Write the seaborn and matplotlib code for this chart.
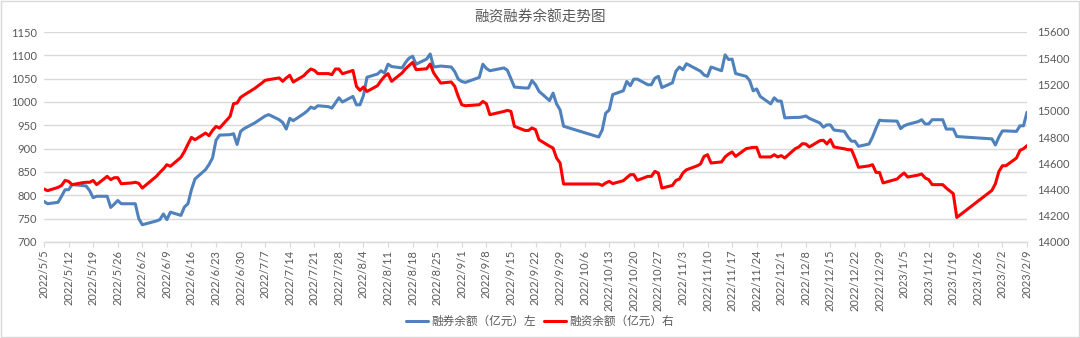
import matplotlib
matplotlib.use("Agg")
import matplotlib.pyplot as plt
from matplotlib.lines import Line2D
from matplotlib.patches import Rectangle
import pandas as pd
import seaborn as sns

# Trading days (2022/5/5 – 2023/2/9)
trade_dates = [
    # 2022-05
    "2022-05-05", "2022-05-06", "2022-05-09", "2022-05-10", "2022-05-11", "2022-05-12", "2022-05-13",
    "2022-05-16", "2022-05-17", "2022-05-18", "2022-05-19", "2022-05-20", "2022-05-23", "2022-05-24",
    "2022-05-25", "2022-05-26", "2022-05-27", "2022-05-30", "2022-05-31",
    # 2022-06
    "2022-06-01", "2022-06-02", "2022-06-06", "2022-06-07", "2022-06-08", "2022-06-09", "2022-06-10",
    "2022-06-13", "2022-06-14", "2022-06-15", "2022-06-16", "2022-06-17", "2022-06-20", "2022-06-21",
    "2022-06-22", "2022-06-23", "2022-06-24", "2022-06-27", "2022-06-28", "2022-06-29", "2022-06-30",
    # 2022-07
    "2022-07-01", "2022-07-04", "2022-07-05", "2022-07-06", "2022-07-07", "2022-07-08", "2022-07-11",
    "2022-07-12", "2022-07-13", "2022-07-14", "2022-07-15", "2022-07-18", "2022-07-19", "2022-07-20",
    "2022-07-21", "2022-07-22", "2022-07-25", "2022-07-26", "2022-07-27", "2022-07-28", "2022-07-29",
    # 2022-08
    "2022-08-01", "2022-08-02", "2022-08-03", "2022-08-04", "2022-08-05", "2022-08-08", "2022-08-09",
    "2022-08-10", "2022-08-11", "2022-08-12", "2022-08-15", "2022-08-16", "2022-08-17", "2022-08-18",
    "2022-08-19", "2022-08-22", "2022-08-23", "2022-08-24", "2022-08-25", "2022-08-26", "2022-08-29",
    "2022-08-30", "2022-08-31",
    # 2022-09
    "2022-09-01", "2022-09-02", "2022-09-05", "2022-09-06", "2022-09-07", "2022-09-08", "2022-09-09",
    "2022-09-13", "2022-09-14", "2022-09-15", "2022-09-16", "2022-09-19", "2022-09-20", "2022-09-21",
    "2022-09-22", "2022-09-23", "2022-09-26", "2022-09-27", "2022-09-28", "2022-09-29", "2022-09-30",
    # 2022-10
    "2022-10-10", "2022-10-11", "2022-10-12", "2022-10-13", "2022-10-14", "2022-10-17", "2022-10-18",
    "2022-10-19", "2022-10-20", "2022-10-21", "2022-10-24", "2022-10-25", "2022-10-26", "2022-10-27",
    "2022-10-28", "2022-10-31",
    # 2022-11
    "2022-11-01", "2022-11-02", "2022-11-03", "2022-11-04", "2022-11-07", "2022-11-08", "2022-11-09",
    "2022-11-10", "2022-11-11", "2022-11-14", "2022-11-15", "2022-11-16", "2022-11-17", "2022-11-18",
    "2022-11-21", "2022-11-22", "2022-11-23", "2022-11-24", "2022-11-25", "2022-11-28", "2022-11-29",
    "2022-11-30",
    # 2022-12
    "2022-12-01", "2022-12-02", "2022-12-05", "2022-12-06", "2022-12-07", "2022-12-08", "2022-12-09",
    "2022-12-12", "2022-12-13", "2022-12-14", "2022-12-15", "2022-12-16", "2022-12-19", "2022-12-20",
    "2022-12-21", "2022-12-22", "2022-12-23", "2022-12-26", "2022-12-27", "2022-12-28", "2022-12-29",
    "2022-12-30",
    # 2023-01
    "2023-01-03", "2023-01-04", "2023-01-05", "2023-01-06", "2023-01-09", "2023-01-10", "2023-01-11",
    "2023-01-12", "2023-01-13", "2023-01-16", "2023-01-17", "2023-01-18", "2023-01-19", "2023-01-20",
    "2023-01-30", "2023-01-31",
    # 2023-02
    "2023-02-01", "2023-02-02", "2023-02-03", "2023-02-06", "2023-02-07", "2023-02-08", "2023-02-09",
]

# 融券余额（亿元）, left axis
short_balance = [
    787, 782, 785, 798, 812, 812, 823, 821, 820, 810, 795, 798, 798, 774, 781, 789, 782, 782, 782,
    750, 737, 745, 748, 760, 748, 764, 757, 775, 782, 812, 835, 855, 866, 880, 918, 929, 930, 932, 909, 937,
    943, 955, 960, 965, 970, 973, 962, 956, 942, 965, 960, 975, 981, 989, 986, 992, 990, 987, 998, 1009, 1000,
    1012, 994, 994, 1014, 1053, 1060, 1067, 1062, 1081, 1076, 1073, 1085, 1094, 1098, 1081, 1092, 1103,
    1075, 1076, 1077, 1075, 1065, 1049,
    1044, 1042, 1050, 1053, 1081, 1072, 1067, 1073, 1068, 1050, 1032, 1030, 1030, 1046, 1037, 1023, 1003,
    1019, 996, 983, 948,
    925, 940, 976, 983, 1016, 1024, 1044, 1035, 1049, 1049, 1037, 1037, 1051, 1055, 1031, 1041,
    1066, 1075, 1069, 1082, 1070, 1066, 1058, 1055, 1075, 1067, 1101, 1091, 1092, 1061, 1055, 1046, 1024,
    1028, 1012, 996, 1009, 1002,
    1002, 966, 967, 967, 968, 970, 965, 955, 946, 951, 951, 940, 937, 925, 916, 916, 905, 910, 925, 944,
    961, 960,
    959, 943, 949, 952, 958, 962, 953, 953, 962, 962, 942, 942, 942, 926, 921, 908,
    925, 938, 938, 937, 949, 949, 978,
]

# 融资余额（亿元）, right axis
margin_balance = [
    14404, 14391, 14416, 14431, 14469, 14462, 14437, 14452, 14455, 14455, 14469, 14437, 14500, 14475,
    14490, 14490, 14444, 14450, 14455,
    14447, 14411, 14500, 14530, 14556, 14589, 14577, 14645, 14690, 14745, 14797, 14779, 14830, 14810,
    14850, 14881, 14868, 14957, 15054, 15059, 15102,
    15120, 15170, 15190, 15210, 15232, 15237, 15250, 15224, 15250, 15270, 15219, 15267, 15295, 15318,
    15308, 15283, 15283, 15275, 15318, 15318, 15282,
    15307, 15186, 15155, 15181, 15147, 15191, 15230, 15262, 15282, 15224, 15288, 15320, 15345, 15368,
    15313, 15320, 15356, 15288, 15250, 15211, 15219, 15186, 15109,
    15046, 15038, 15044, 15046, 15071, 15054, 14970, 14995, 15003, 14995, 14881, 14850, 14850, 14869,
    14856, 14779, 14730, 14716, 14640, 14602, 14442,
    14442, 14431, 14450, 14462, 14445, 14467, 14490, 14513, 14513, 14470, 14500, 14500, 14538, 14525,
    14411, 14431,
    14469, 14480, 14526, 14550, 14580, 14594, 14652, 14665, 14602, 14610, 14648, 14670, 14686, 14652,
    14711, 14716, 14721, 14721, 14648, 14648, 14665, 14648,
    14658, 14640, 14711, 14724, 14749, 14747, 14724, 14772, 14775, 14747, 14780, 14724, 14710, 14703,
    14703, 14640, 14569, 14580, 14589, 14530, 14530, 14450,
    14480, 14505, 14526, 14495, 14510, 14518, 14488, 14475, 14437, 14437, 14411, 14390, 14368, 14187,
    14393, 14444,
    14538, 14581, 14581, 14640, 14698, 14711, 14734,
]

title_text = "融资融券余额走势图"
short_label = "融券余额（亿元）左"
margin_label = "融资余额（亿元）右"
left_ticks = [700, 750, 800, 850, 900, 950, 1000, 1050, 1100, 1150]
right_ticks = [14000, 14200, 14400, 14600, 14800, 15000, 15200, 15400, 15600]
week_ticks = pd.date_range("2022-05-05", "2023-02-09", freq="7D")

BLUE = "#4f81bd"
RED = "#ff0000"
TEXT = "#595959"
GRID = "#d9d9d9"

sns.set_theme(style="white")
plt.rcParams["font.family"] = ["Lato", "Noto Sans CJK SC", "DejaVu Sans"]

df = pd.DataFrame({
    "date": pd.to_datetime(trade_dates),
    "short": short_balance,
    "margin": margin_balance,
})

W, H = 1080, 338
fig = plt.figure(figsize=(W / 100, H / 100), dpi=100)
fig.patch.set_facecolor("white")
ax = fig.add_axes([44 / W, 1 - 242 / H, (1027 - 44) / W, 210 / H])
ax2 = ax.twinx()

sns.lineplot(data=df, x="date", y="short", ax=ax, color=BLUE, linewidth=2.2, legend=False)
sns.lineplot(data=df, x="date", y="margin", ax=ax2, color=RED, linewidth=2.2, legend=False)

ax.set_xlim(week_ticks[0], week_ticks[-1])
ax.set_ylim(700, 1150)
ax2.set_ylim(14000, 15600)

ax.set_yticks(left_ticks)
ax2.set_yticks(right_ticks)
ax.yaxis.grid(True, color=GRID, linewidth=1.0)
ax.set_axisbelow(True)

ax.set_xticks(week_ticks)
ax.set_xticklabels([f"{d.year}/{d.month}/{d.day}" for d in week_ticks],
                   rotation=90, fontsize=8, color=TEXT)
ax.tick_params(axis="x", length=3.5, width=0.8, color=GRID, pad=2, direction="out", bottom=True)
ax.tick_params(axis="y", length=0, labelsize=8, labelcolor=TEXT, pad=5)
ax2.tick_params(axis="y", length=0, labelsize=8, labelcolor=TEXT, pad=7)

for a in (ax, ax2):
    a.set_xlabel("")
    a.set_ylabel("")
    for side in ("left", "right", "top"):
        a.spines[side].set_visible(False)
    a.spines["bottom"].set_visible(False)
ax.spines["bottom"].set_visible(True)
ax.spines["bottom"].set_color(GRID)
ax.spines["bottom"].set_linewidth(1.0)

fig.text(0.5, 1 - 17 / H, title_text, ha="center", va="center",
         fontsize=10.5, color=TEXT)

handles = [Line2D([], [], color=BLUE, linewidth=2.2),
           Line2D([], [], color=RED, linewidth=2.2)]
leg = fig.legend(handles, [short_label, margin_label], loc="center",
                 bbox_to_anchor=(0.5, 1 - 321 / H), ncol=2, frameon=False,
                 fontsize=8.4, handlelength=1.9, handletextpad=0.3, columnspacing=0.6)
for t in leg.get_texts():
    t.set_color(TEXT)

fig.patches.append(Rectangle((0.001, 0.002), 0.998, 0.996, transform=fig.transFigure,
                             fill=False, edgecolor=GRID, linewidth=1.0))

fig.savefig("out.png", dpi=100)
